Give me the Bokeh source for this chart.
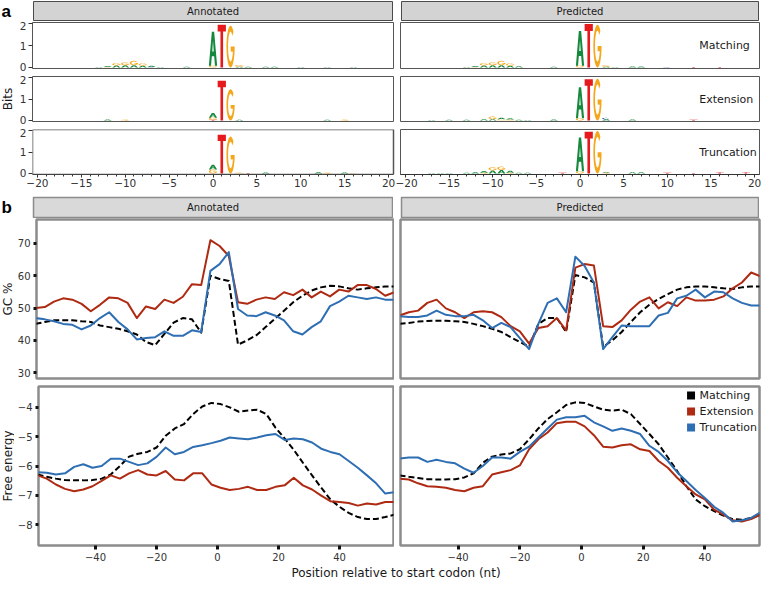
import numpy as np
from bokeh.plotting import figure
from bokeh.layouts import row, column
from bokeh.models import (Range1d, Label, Spacer, FixedTicker, ColumnDataSource,
                          Legend, LegendItem, LinearAxis, BoxAnnotation)
from bokeh.embed import file_html
from bokeh.resources import INLINE

FONT = "DejaVu Sans"

# ---------------- data ----------------
FACETS = ["Annotated", "Predicted"]
LOGO_ROWS = ["Matching", "Extension", "Truncation"]
SERIES = ["Matching", "Extension", "Truncation"]
SERIES_COLORS = {"Matching": "#000000", "Extension": "#AE2A12", "Truncation": "#2E6EB3"}
LETTER_COLORS = {"A": "#14883B", "C": "#2A5CAA", "G": "#F5A71C", "T": "#E41A1C"}

LOGO_X_TICKS = [-20, -15, -10, -5, 0, 5, 10, 15, 20]
LOGO_Y_TICKS = [0, 1, 2]

# sequence-logo letter heights (bits) per position
LOGO_ANN_MATCH = {-13: {"A": .02}, -12: {"A": .04, "G": .02}, -11: {"A": .09, "G": .10},
                  -10: {"A": .10, "G": .13}, -9: {"A": .10, "G": .20}, -8: {"A": .08, "G": .10},
                  -7: {"A": .05, "C": .02}, -6: {"A": .02}, -3: {"A": .03},
                  0: {"G": .08, "A": 1.55}, 1: {"T": 1.95}, 2: {"G": 1.90},
                  3: {"A": .03, "G": .08}, 4: {"A": .03}, 6: {"A": .03}, 7: {"A": .03},
                  10: {"A": .02}, 13: {"A": .02}, 16: {"A": .02}}
LOGO_ANN_EXT = {-12: {"A": .04}, -10: {"G": .03}, 0: {"T": .03, "G": .10, "A": .22},
                1: {"T": 1.85}, 2: {"G": 1.45}, 3: {"A": .03}, 13: {"A": .03}, 15: {"G": .03}}
LOGO_ANN_TRU = {0: {"G": .18, "A": .22}, 1: {"T": 1.80}, 2: {"G": 1.72}, 3: {"G": .04},
                4: {"T": .02}, 6: {"A": .04}, 12: {"A": .05}, 13: {"G": .03},
                15: {"A": .04}, 16: {"G": .02}}
LOGO_PRED_MATCH = {-13: {"A": .02}, -12: {"A": .04, "G": .02}, -11: {"A": .09, "G": .10},
                   -10: {"A": .10, "G": .13}, -9: {"A": .10, "G": .20}, -8: {"A": .08, "G": .10},
                   -7: {"A": .05}, -3: {"A": .03}, 0: {"G": .08, "A": 1.58}, 1: {"T": 1.98},
                   2: {"G": 1.95}, 3: {"A": .03, "G": .07}, 4: {"A": .02}, 6: {"A": .04},
                   7: {"A": .04}, 10: {"C": .02}, 13: {"T": .02}, 16: {"T": .02}}
LOGO_PRED_EXT = {-17: {"A": .02}, -15: {"A": .03}, -13: {"A": .03}, -11: {"A": .06},
                 -10: {"A": .06, "G": .12}, -9: {"A": .07, "G": .05}, -8: {"A": .06, "G": .04},
                 -7: {"A": .03}, -6: {"A": .02}, -3: {"A": .04}, 0: {"G": .10, "A": 1.45},
                 1: {"T": 1.92}, 2: {"G": 1.95}, 3: {"A": .05, "C": .07}, 6: {"A": .04},
                 13: {"T": .03}}
LOGO_PRED_TRU = {-17: {"A": .02}, -16: {"A": .02}, -15: {"A": .02}, -13: {"A": .03},
                 -12: {"A": .05}, -11: {"A": .08, "G": .03}, -10: {"A": .14, "G": .15},
                 -9: {"A": .16, "G": .16}, -8: {"A": .10, "G": .03}, -7: {"A": .03},
                 -6: {"A": .03}, -2: {"T": .03}, 0: {"G": .10, "A": 1.58}, 1: {"T": 1.94},
                 2: {"G": 1.98}, 3: {"A": .04, "G": .03}, 6: {"A": .06}, 7: {"A": .06},
                 10: {"T": .03}, 13: {"T": .02}, 16: {"T": .04}, 19: {"T": .04}}

# GC content / free energy profiles (position relative to start codon, nt)
POS = list(range(-59, 59, 3))
GC_TICKS = [30, 40, 50, 60, 70]
FE_TICKS = [-8, -7, -6, -5, -4]
B_X_TICKS = [-40, -20, 0, 20, 40]

GC_ANN_MATCH = [45.1, 45.7, 46.2, 46.2, 46.2, 45.9, 45.7, 44.6, 44.1, 43.6, 42.8, 41.8, 39.5, 38.5,
                42.0, 45.5, 46.9, 46.5, 42.4, 60.0, 59.0, 58.4, 38.7, 40.0, 41.6, 44.1, 46.7, 49.2,
                51.8, 53.8, 55.4, 56.4, 56.9, 56.7, 56.1, 55.7, 56.1, 56.4, 56.7, 56.7]
GC_ANN_EXT = [50.0, 50.3, 52.0, 53.0, 52.6, 51.3, 49.0, 51.0, 53.3, 53.0, 51.6, 46.9, 50.5, 49.7,
              52.6, 51.6, 53.5, 57.4, 57.1, 71.0, 69.2, 66.1, 51.8, 51.3, 52.6, 53.3, 52.8, 54.9,
              54.0, 55.7, 53.3, 55.1, 53.6, 55.7, 55.1, 57.1, 57.1, 55.9, 53.8, 54.9]
GC_ANN_TRU = [46.9, 46.5, 45.9, 45.1, 44.8, 43.4, 44.6, 46.9, 48.7, 45.7, 43.4, 40.3, 40.7, 41.0,
              42.8, 41.4, 41.4, 43.1, 42.6, 61.5, 63.6, 67.3, 49.7, 47.7, 47.5, 48.7, 47.7, 46.2,
              42.8, 41.8, 44.1, 45.9, 50.6, 52.0, 53.8, 53.3, 52.8, 53.3, 52.6, 52.6]
GC_PRED_MATCH = [45.1, 45.4, 45.8, 46.0, 46.1, 46.1, 45.9, 45.7, 45.1, 44.4, 43.6, 42.6, 41.0, 39.5,
                 38.0, 45.1, 46.9, 46.9, 42.6, 60.2, 59.5, 57.9, 38.0, 40.0, 42.6, 45.7, 48.7, 51.0,
                 52.8, 54.3, 55.7, 56.4, 56.7, 56.7, 56.4, 56.1, 55.9, 56.4, 56.7, 56.7]
GC_PRED_EXT = [47.7, 48.7, 49.2, 51.6, 52.6, 49.9, 48.7, 46.9, 48.7, 49.0, 48.7, 47.2, 44.4, 42.8,
               39.0, 43.8, 44.4, 46.9, 43.1, 62.5, 63.6, 63.2, 44.4, 44.1, 46.2, 49.5, 52.0, 53.3,
               49.9, 51.8, 50.6, 53.3, 52.3, 52.3, 52.6, 53.6, 56.1, 57.9, 61.0, 59.8]
GC_PRED_TRU = [47.5, 47.2, 47.2, 47.7, 49.2, 47.9, 47.5, 47.5, 47.9, 46.2, 43.8, 45.4, 44.1, 40.7,
               37.3, 45.1, 51.6, 53.0, 48.7, 65.9, 63.0, 57.9, 37.3, 41.0, 44.6, 44.4, 44.4, 44.4,
               47.7, 48.5, 53.0, 53.8, 55.7, 53.3, 55.1, 54.9, 53.0, 51.6, 50.8, 50.8]

FE_ANN_MATCH = [-6.29, -6.37, -6.43, -6.48, -6.49, -6.49, -6.48, -6.43, -6.29, -6.00, -5.68, -5.58,
                -5.52, -5.37, -4.97, -4.72, -4.57, -4.23, -3.97, -3.85, -3.89, -4.00, -4.15, -4.11,
                -4.08, -4.23, -4.69, -5.06, -5.45, -5.89, -6.32, -6.74, -7.14, -7.39, -7.60, -7.74,
                -7.81, -7.81, -7.74, -7.66]
FE_ANN_EXT = [-6.32, -6.43, -6.63, -6.78, -6.86, -6.80, -6.69, -6.51, -6.32, -6.43, -6.25, -6.14,
              -6.29, -6.32, -6.17, -6.46, -6.49, -6.25, -6.25, -6.63, -6.74, -6.82, -6.78, -6.71,
              -6.82, -6.82, -6.71, -6.66, -6.40, -6.66, -6.80, -7.01, -7.20, -7.23, -7.26, -7.35,
              -7.28, -7.31, -7.23, -7.23]
FE_ANN_TRU = [-6.21, -6.23, -6.29, -6.25, -6.03, -5.94, -6.06, -6.00, -5.75, -5.75, -5.86, -5.97,
              -5.91, -5.69, -5.37, -5.60, -5.52, -5.35, -5.29, -5.22, -5.14, -5.03, -5.06, -5.09,
              -5.03, -4.95, -4.91, -5.11, -5.06, -5.09, -5.20, -5.41, -5.52, -5.60, -5.83, -6.06,
              -6.32, -6.59, -6.94, -6.89]
FE_PRED_MATCH = [-6.32, -6.37, -6.41, -6.45, -6.46, -6.46, -6.45, -6.39, -6.25, -5.89, -5.68, -5.61,
                 -5.57, -5.43, -5.09, -4.72, -4.40, -4.17, -3.92, -3.83, -3.85, -3.97, -4.08, -4.11,
                 -4.08, -4.23, -4.57, -4.91, -5.26, -5.71, -6.17, -6.69, -7.14, -7.37, -7.54, -7.69,
                 -7.81, -7.83, -7.77, -7.66]
FE_PRED_EXT = [-6.43, -6.46, -6.59, -6.69, -6.71, -6.74, -6.82, -6.86, -6.74, -6.69, -6.29, -6.21,
               -6.14, -5.98, -5.43, -5.09, -4.86, -4.54, -4.49, -4.49, -4.65, -4.95, -5.34, -5.37,
               -5.29, -5.26, -5.43, -5.49, -5.83, -6.06, -6.40, -6.69, -6.97, -7.14, -7.49, -7.66,
               -7.85, -7.89, -7.81, -7.66]
FE_PRED_TRU = [-5.75, -5.71, -5.71, -5.86, -5.79, -5.86, -5.91, -6.09, -6.23, -6.00, -5.71, -5.71,
               -5.75, -5.52, -5.34, -5.03, -4.72, -4.42, -4.34, -4.34, -4.29, -4.51, -4.65, -4.80,
               -4.72, -4.80, -4.91, -5.31, -5.52, -5.83, -6.21, -6.51, -6.82, -7.09, -7.39, -7.60,
               -7.89, -7.85, -7.77, -7.58]

LOGOS = {("Annotated", "Matching"): LOGO_ANN_MATCH, ("Annotated", "Extension"): LOGO_ANN_EXT,
         ("Annotated", "Truncation"): LOGO_ANN_TRU, ("Predicted", "Matching"): LOGO_PRED_MATCH,
         ("Predicted", "Extension"): LOGO_PRED_EXT, ("Predicted", "Truncation"): LOGO_PRED_TRU}
GC = {"Annotated": {"Matching": GC_ANN_MATCH, "Extension": GC_ANN_EXT, "Truncation": GC_ANN_TRU},
      "Predicted": {"Matching": GC_PRED_MATCH, "Extension": GC_PRED_EXT, "Truncation": GC_PRED_TRU}}
FE = {"Annotated": {"Matching": FE_ANN_MATCH, "Extension": FE_ANN_EXT, "Truncation": FE_ANN_TRU},
      "Predicted": {"Matching": FE_PRED_MATCH, "Extension": FE_PRED_EXT, "Truncation": FE_PRED_TRU}}

# ---------------- letter shapes (unit box) ----------------
def _arc(cx, cy, rx, ry, a0, a1, n=36):
    t = np.radians(np.linspace(a0, a1, n))
    return list(cx + rx * np.cos(t)), list(cy + ry * np.sin(t))

def _shape_A():
    ext = ([0, .36, .64, 1, .74, .64, .36, .26], [0, 1, 1, 0, 0, .28, .28, 0])
    hole = ([.41, .5, .59], [.42, .74, .42])
    return [ext, hole]

def _shape_T():
    return [([0, 1, 1, .66, .66, .34, .34, 0], [1, 1, .84, .84, 0, 0, .84, .84])]

def _shape_G():
    ox, oy = _arc(.5, .5, .5, .5, 45, 360)
    ix, iy = _arc(.5, .5, .3, .36, -20, -315)
    return [(ox + [.52, .52] + ix, oy + [.5, .38] + iy)]

def _shape_C():
    ox, oy = _arc(.5, .5, .5, .5, 45, 315)
    ix, iy = _arc(.5, .5, .3, .36, -45, -315)
    return [(ox + ix, oy + iy)]

SHAPES = {"A": _shape_A(), "T": _shape_T(), "G": _shape_G(), "C": _shape_C()}

def logo_source(data):
    xs, ys, cs = [], [], []
    for pos, stack in data.items():
        base = 0.0
        for letter, h in sorted(stack.items(), key=lambda kv: kv[1]):
            rings_x, rings_y = [], []
            for rx, ry in SHAPES[letter]:
                rings_x.append([pos - 0.47 + 0.94 * v for v in rx])
                rings_y.append([base + h * v for v in ry])
            xs.append([rings_x])
            ys.append([rings_y])
            cs.append(LETTER_COLORS[letter])
            base += h
    return ColumnDataSource(dict(xs=xs, ys=ys, color=cs))

# ---------------- layout (canvas pixels) ----------------
CANVAS_W = 762
T_W = 14                    # y-title column
L_FRAME = (32, 393)
R_FRAME = (400, 759)
L_BL, L_BR = L_FRAME[0] - T_W, 1
R_BL = R_FRAME[0] - (L_FRAME[1] + L_BR)
R_BR = CANVAS_W - R_FRAME[1]
W_L = L_BL + (L_FRAME[1] - L_FRAME[0]) + L_BR
W_R = R_BL + (R_FRAME[1] - R_FRAME[0]) + R_BR
AX_SPLIT = 395              # split between the two logo x axes (room for "20" / "-20")

A_XR = (-20.56, 20.56)
A_YR = (-0.05, 2.05)
B_XR = (-58.7, 57.7)
GC_YR = (28.2, 77.4)
FE_YR = (-8.71, -3.29)


def make_fig(width, height, xr, yr, bl=0, br=0, bt=0, bb=0):
    p = figure(width=width, height=height, x_range=Range1d(*xr), y_range=Range1d(*yr),
               output_backend="svg", toolbar_location=None, title=None,
               x_axis_location=None, y_axis_location=None,
               min_border_left=bl, min_border_right=br, min_border_top=bt, min_border_bottom=bb)
    p.grid.visible = False
    p.background_fill_color = "white"
    p.border_fill_color = "white"
    p.outline_line_color = None
    return p


def add_axis(p, side, ticks, fs, tick_out, standoff, tick_w, tick_color, label_color,
             axis_line=None, minor=None, bounds="auto"):
    ax = LinearAxis(ticker=FixedTicker(ticks=ticks, minor_ticks=minor or []), bounds=bounds)
    ax.major_label_text_font = FONT
    ax.major_label_text_font_size = fs
    ax.major_label_text_color = label_color
    ax.major_tick_line_color = tick_color
    ax.major_tick_line_width = tick_w
    ax.major_tick_out = tick_out
    ax.major_tick_in = 0
    ax.major_label_standoff = standoff
    ax.axis_line_color = axis_line
    if minor:
        ax.minor_tick_line_color = tick_color
        ax.minor_tick_out = 2
        ax.minor_tick_in = 0
    else:
        ax.minor_tick_line_color = None
    p.add_layout(ax, side)
    return ax


def strip(width, height, text, fill, line, lw, fs="10px"):
    p = make_fig(width, height, (0, 1), (0, 1), 1, 1, 1, 1)
    p.background_fill_color = fill
    p.outline_line_color = line
    p.outline_line_width = lw
    p.add_layout(Label(x=0.5, y=0.5, text=text, text_align="center", text_baseline="middle",
                       text_font=FONT, text_font_size=fs, text_color="#1a1a1a"))
    return p


def side_title(height, bt, bb, text):
    p = make_fig(T_W, height, (0, T_W), (0, 1), 0, 0, bt, bb)
    if text:
        p.add_layout(Label(x=T_W / 2, y=0.5, text=text, angle=np.pi / 2, text_align="center",
                           text_baseline="middle", text_font=FONT, text_font_size="12px",
                           text_color="#1a1a1a"))
    return p


def panel_label_fig(width, height, text, y, baseline):
    p = make_fig(width, height, (0, width), (0, height))
    p.add_layout(Label(x=1, y=y, text=text, text_font="Liberation Sans",
                       text_font_style="bold", text_font_size="17px", text_color="#000000",
                       text_baseline=baseline))
    return p


def strip_row(h, label, y, baseline, fill, line, lw):
    return row(panel_label_fig(L_FRAME[0], h, label, y, baseline),
               strip(L_FRAME[1] - L_FRAME[0], h, FACETS[0], fill, line, lw),
               Spacer(width=R_FRAME[0] - L_FRAME[1], height=h),
               strip(R_FRAME[1] - R_FRAME[0], h, FACETS[1], fill, line, lw),
               Spacer(width=R_BR, height=h))


rows = []

# ---- part a ----
rows.append(strip_row(21, "a", 21, "top", "#d3d3d3", "#4a4a4a", 1))

a_scale = (A_XR[1] - A_XR[0]) / (L_FRAME[1] - L_FRAME[0])   # data units per pixel
a_heights = [(54, 1, 7), (53, 1, 7), (68, 1, 22)]
for i, rname in enumerate(LOGO_ROWS):
    h, bt, bb = a_heights[i]
    last = i == len(LOGO_ROWS) - 1
    figs = [side_title(h, bt, bb, "Bits" if i == 1 else "")]
    for j, facet in enumerate(FACETS):
        if j == 0:
            if last:
                # frame reaches the axis split so the "20" tick label fits; same scale
                w, bl, br = AX_SPLIT - T_W, L_BL, 0
                xr = (A_XR[0], A_XR[0] + a_scale * (AX_SPLIT - L_FRAME[0]))
            else:
                w, bl, br, xr = W_L, L_BL, L_BR, A_XR
        else:
            if last:
                w, bl, br = CANVAS_W - AX_SPLIT, R_FRAME[0] - AX_SPLIT, R_BR
            else:
                w, bl, br = W_R, R_BL, R_BR
            xr = A_XR
        p = make_fig(w, h, xr, A_YR, bl, br, bt, bb)
        if j == 0 and last:
            p.add_layout(BoxAnnotation(left=A_XR[0], right=A_XR[1], bottom=A_YR[0],
                                       top=A_YR[1], fill_alpha=0, fill_color=None,
                                       line_color="#555555", line_alpha=1.0,
                                       line_dash="solid", line_width=1.5))
        else:
            p.outline_line_color = "#555555"
            p.outline_line_width = 1
        src = logo_source(LOGOS[(facet, rname)])
        p.multi_polygons(xs="xs", ys="ys", fill_color="color", line_color=None, source=src)
        if j == 0:
            add_axis(p, "left", LOGO_Y_TICKS, "10.5px", 4, 2, 1, "#333333", "#333333")
        else:
            p.add_layout(Label(x=A_XR[1] - 6.9, y=1.0, text=rname, text_align="left",
                               text_baseline="middle", text_font=FONT, text_font_size="11px",
                               text_color="#1a1a1a"))
        if last:
            add_axis(p, "below", LOGO_X_TICKS, "10.5px", 3, 1, 1, "#333333", "#333333",
                     axis_line="#333333", minor=list(range(-20, 21)), bounds=A_XR)
        figs.append(p)
    rows.append(row(*figs))

# ---- part b ----
rows.append(strip_row(22, "b", 10.5, "middle", "#d9d9d9", "#8c8c8c", 1.5))

b_specs = [("GC %", GC, GC_YR, GC_TICKS, 167, 1, 7, False),
           ("Free energy", FE, FE_YR, FE_TICKS, 181, 1, 21, True)]
for title, dataset, yr, yticks, h, bt, bb, has_x in b_specs:
    figs = [side_title(h, bt, bb, title)]
    for j, facet in enumerate(FACETS):
        w, bl, br = (W_L, L_BL, L_BR) if j == 0 else (W_R, R_BL, R_BR)
        p = make_fig(w, h, B_XR, yr, bl, br, bt, bb)
        p.outline_line_color = "#8c8c8c"
        p.outline_line_width = 2.5
        for s in SERIES:
            p.line(POS, dataset[facet][s], line_color=SERIES_COLORS[s], line_width=2,
                   line_dash="6 3" if s == "Matching" else "solid", line_join="round")
        if j == 0:
            add_axis(p, "left", yticks, "10px", 3, 3, 3, "#111111", "#333333")
        if has_x:
            add_axis(p, "below", B_X_TICKS, "10px", 4, 3, 3, "#111111", "#333333")
        if has_x and j == 1:
            items = []
            for s in SERIES:
                r = p.quad(left=[np.nan], right=[np.nan], bottom=[np.nan], top=[np.nan],
                           fill_color=SERIES_COLORS[s], line_color=None)
                items.append(LegendItem(label=s, renderers=[r]))
            leg = Legend(items=items, location="top_right", margin=2, padding=3, spacing=2,
                         label_height=14, glyph_height=10, glyph_width=10, label_standoff=4,
                         label_text_font=FONT, label_text_font_size="11px",
                         label_text_color="#1a1a1a", border_line_color=None,
                         background_fill_alpha=0)
            p.add_layout(leg)
        figs.append(p)
    rows.append(row(*figs))

# x-axis title
pt = make_fig(CANVAS_W, 13, (0, CANVAS_W), (0, 13))
pt.add_layout(Label(x=(L_FRAME[0] + R_FRAME[1]) / 2, y=6.5,
                    text="Position relative to start codon (nt)", text_align="center",
                    text_baseline="middle", text_font=FONT, text_font_size="12px",
                    text_color="#1a1a1a"))
rows.append(pt)

layout = column(*rows)
open("out.html", "w").write(file_html(layout, INLINE))
